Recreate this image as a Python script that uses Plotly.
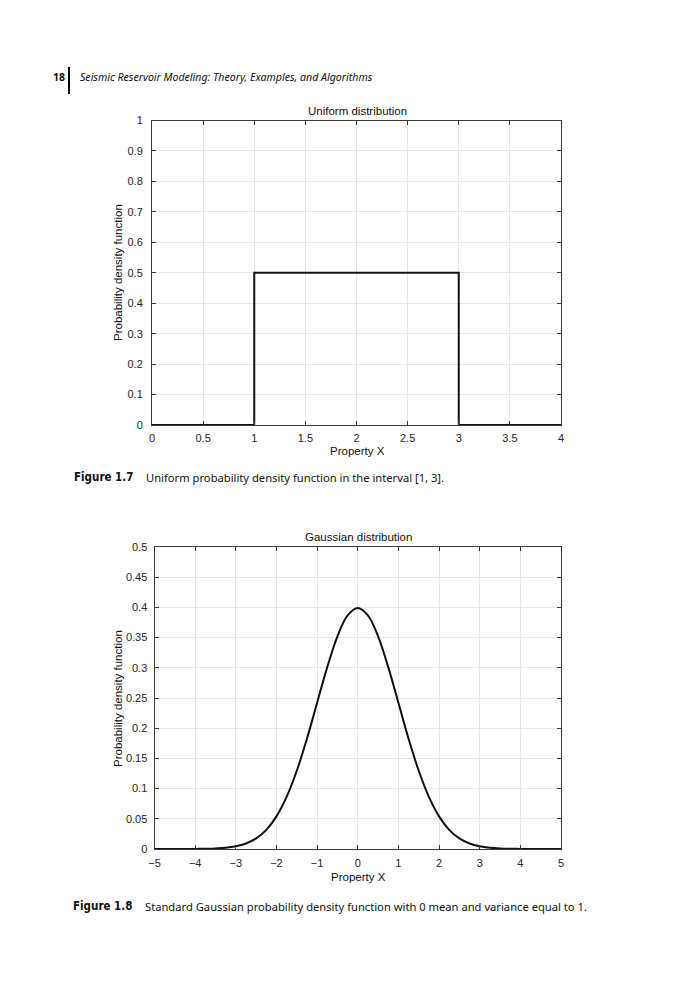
import plotly.graph_objects as go

# ---------------- data ----------------
uni_x = [0, 1, 1, 3, 3, 4]
uni_y = [0, 0, 0.5, 0.5, 0, 0]

gauss_x = [-5, -4.75, -4.5, -4.25, -4, -3.75, -3.5, -3.25, -3, -2.75, -2.5, -2.25, -2,
           -1.75, -1.5, -1.25, -1, -0.75, -0.5, -0.25, 0, 0.25, 0.5, 0.75, 1, 1.25,
           1.5, 1.75, 2, 2.25, 2.5, 2.75, 3, 3.25, 3.5, 3.75, 4, 4.25, 4.5, 4.75, 5]
gauss_y = [0.0, 0.0, 0.0, 0.0001, 0.0001, 0.0004, 0.0009, 0.002, 0.0044, 0.0091, 0.0175,
           0.0317, 0.054, 0.0863, 0.1295, 0.1826, 0.242, 0.3011, 0.3521, 0.3867, 0.3989,
           0.3867, 0.3521, 0.3011, 0.242, 0.1826, 0.1295, 0.0863, 0.054, 0.0317, 0.0175,
           0.0091, 0.0044, 0.002, 0.0009, 0.0004, 0.0001, 0.0001, 0.0, 0.0, 0.0]

uni_xticks = [0, 0.5, 1, 1.5, 2, 2.5, 3, 3.5, 4]
uni_yticks = [0, 0.1, 0.2, 0.3, 0.4, 0.5, 0.6, 0.7, 0.8, 0.9, 1]
gauss_xticks = [-5, -4, -3, -2, -1, 0, 1, 2, 3, 4, 5]
gauss_yticks = [0, 0.05, 0.1, 0.15, 0.2, 0.25, 0.3, 0.35, 0.4, 0.45, 0.5]

title1 = "Uniform distribution"
title2 = "Gaussian distribution"
xlabel = "Property X"
ylabel = "Probability density function"
header_num = "18"
header_text = "Seismic Reservoir Modeling: Theory, Examples, and Algorithms"
cap1_label = "Figure 1.7"
cap1_text = "Uniform probability density function in the interval [1, 3]."
cap2_label = "Figure 1.8"
cap2_text = "Standard Gaussian probability density function with 0 mean and variance equal to 1."

# ---------------- figure ----------------
W, H = 696, 1000
fig = go.Figure()

fig.add_trace(go.Scatter(x=uni_x, y=uni_y, mode="lines", xaxis="x", yaxis="y",
                         line=dict(color="#111", width=2), showlegend=False))
fig.add_trace(go.Scatter(x=gauss_x, y=gauss_y, mode="lines", xaxis="x2", yaxis="y2",
                         line=dict(color="#111", width=2, shape="spline", smoothing=1.0),
                         showlegend=False))

plot_font = "Liberation Sans, Arial, sans-serif"
page_font = "Noto Sans, Open Sans, sans-serif"
label_font = "Liberation Sans Narrow, Arial Narrow, DejaVu Sans Condensed, sans-serif"

def px_x(p):
    return p / W

def px_y(p):
    return 1 - p / H

axis_common = dict(
    showline=True, linecolor="#3a3a3a", linewidth=1, mirror="ticks",
    ticks="inside", ticklen=4, tickcolor="#3a3a3a", tickwidth=1,
    showgrid=True, gridcolor="#e6e6e6", gridwidth=1, zeroline=False,
    automargin=False,
    tickfont=dict(family=plot_font, size=11, color="#262626"),
)

fig.update_layout(
    width=W, height=H, margin=dict(l=0, r=0, t=0, b=0, pad=0), autosize=False,
    paper_bgcolor="white", plot_bgcolor="white",
    xaxis=dict(domain=[px_x(152), px_x(561)], range=[0, 4], anchor="y",
               ticklabelstandoff=3,
               tickvals=uni_xticks, ticktext=[f"{v:g}" for v in uni_xticks], **axis_common),
    yaxis=dict(domain=[px_y(425), px_y(120.5)], range=[0, 1], anchor="x",
               ticklabelstandoff=6,
               tickvals=uni_yticks, ticktext=[f"{v:g}" for v in uni_yticks], **axis_common),
    xaxis2=dict(domain=[px_x(154.5), px_x(561)], range=[-5, 5], anchor="y2",
                ticklabelstandoff=4,
                tickvals=gauss_xticks,
                ticktext=[f"{v:g}".replace("-", "\u2212") for v in gauss_xticks], **axis_common),
    yaxis2=dict(domain=[px_y(849), px_y(547)], range=[0, 0.5], anchor="x2",
                ticklabelstandoff=4,
                tickvals=gauss_yticks, ticktext=[f"{v:g}" for v in gauss_yticks], **axis_common),
)

ann = []
def text(x, y, s, size=11, family=plot_font, xanchor="center", yanchor="middle",
         angle=0, color="#111"):
    ann.append(dict(x=px_x(x), y=px_y(y), xref="paper", yref="paper", text=s,
                    showarrow=False, xanchor=xanchor, yanchor=yanchor, textangle=angle,
                    font=dict(family=family, size=size, color=color)))

# plot titles and axis labels
text(357, 111, title1, size=11.5)
text(357, 451, xlabel, size=11.5)
text(118, 272, ylabel, size=11.5, angle=-90)
text(358, 537, title2, size=11.5)
text(358, 877, xlabel, size=11.5)
text(118, 698, ylabel, size=11.5, angle=-90)

# page header
text(51, 77, "<b>" + header_num + "</b>", size=10.5, family=page_font, xanchor="left")
text(78, 77, "<i>" + header_text + "</i>", size=10.6, family=page_font, xanchor="left")

# captions
text(135, 477, "<b>" + cap1_label + "</b>", size=11.5, family=label_font, xanchor="right")
text(144, 477, cap1_text, size=11.2, family=page_font, xanchor="left")
text(134, 906, "<b>" + cap2_label + "</b>", size=11.5, family=label_font, xanchor="right")
text(143, 906, cap2_text, size=11.2, family=page_font, xanchor="left")

fig.update_layout(annotations=ann)

# header vertical bar
fig.add_shape(type="line", xref="paper", yref="paper",
              x0=px_x(69), x1=px_x(69), y0=px_y(67), y1=px_y(94),
              line=dict(color="black", width=2))

fig.write_html("out.html", post_script="document.body.style.margin='0px';",
               config={"displayModeBar": False})
